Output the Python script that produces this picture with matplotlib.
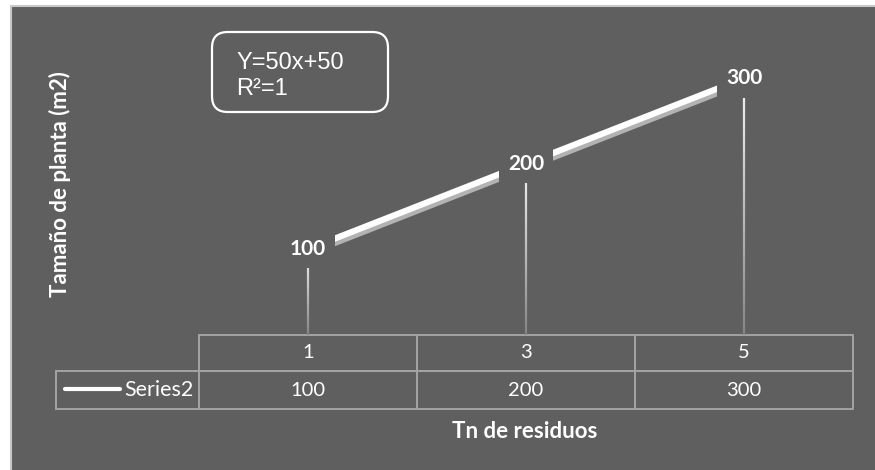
import numpy as np
import matplotlib.pyplot as plt
import matplotlib.patheffects as pe
from matplotlib.patches import Rectangle, FancyBboxPatch
from matplotlib.collections import LineCollection
from matplotlib.colors import LinearSegmentedColormap
from matplotlib.lines import Line2D
from matplotlib.table import Table

# Data
categories = ['1', '3', '5']
series_name = 'Series2'
values = [100, 200, 300]
equation = 'Y=50x+50\nR²=1'
x_title = 'Tn de residuos'
y_title = 'Tamaño de planta (m2)'

BG = '#5f5f5f'
GRID = '#a3a3a3'
W, H = 875, 470

plt.rcParams['font.family'] = ['Lato', 'DejaVu Sans']

fig = plt.figure(figsize=(W / 100, H / 100), dpi=100, facecolor='white')

# chart area background with a thin light border
fig.patches.append(Rectangle((11 / W, -0.01), 1, (H - 5.5) / H + 0.01, transform=fig.transFigure,
                             facecolor=BG, edgecolor='#c8c8c8', lw=1.5, zorder=-5))

ax_px = 299.0
ax = fig.add_axes([199 / W, (H - 334.5) / H, 654 / W, ax_px / H])
ax.set_facecolor('none')
for s in ax.spines.values():
    s.set_visible(False)
ax.set_xticks([])
ax.set_yticks([])
ax.set_xlim(-0.5, len(values) - 0.5)
ax.set_ylim(0, 350)

pos = np.arange(len(values))

# drop lines with a fading gradient
cmap = LinearSegmentedColormap.from_list('drop', ['#858585', '#f4f4f4'])
for xi, v in zip(pos, values):
    ys = np.linspace(0, v, 80)
    segs = [[(xi, ys[k]), (xi, ys[k + 1])] for k in range(len(ys) - 1)]
    lc = LineCollection(segs, colors=cmap(np.linspace(0, 1, len(segs))), linewidths=1.6, zorder=2)
    ax.add_collection(lc)

# main series line with a soft shadow underneath
ax.plot(pos, values, color='white', lw=4.4, solid_capstyle='butt', zorder=3,
        path_effects=[pe.SimpleLineShadow(offset=(0, -3.2), shadow_color='#b2b2b2', alpha=1),
                      pe.Normal()])

# data labels, boxed in background colour so they cut the lines
for xi, v in zip(pos, values):
    ax.text(xi, v, str(v), ha='center', va='center', color='white', fontsize=15,
            fontweight='bold', zorder=5,
            bbox=dict(boxstyle='square,pad=0.45', facecolor=BG, edgecolor='none'))

# data table beneath the plot: header row of categories, one row of values
row_w = 143 / 654
col_w = 1 / len(categories)
tbl_h = (409 - 334.5) / ax_px
tbl = Table(ax, bbox=[-row_w, -tbl_h, 1 + row_w, tbl_h])
cell_kw = dict(edgecolor=GRID, facecolor='none', loc='center')
for j, c in enumerate(categories):
    tbl.add_cell(0, j + 1, width=col_w, height=37, text=c, **cell_kw)
tbl.add_cell(1, 0, width=row_w, height=38, text='', **cell_kw)
for j, v in enumerate(values):
    tbl.add_cell(1, j + 1, width=col_w, height=38, text=str(v), **cell_kw)
tbl.auto_set_font_size(False)
tbl.set_fontsize(14.5)
for cell in tbl.get_celld().values():
    cell.set_linewidth(1.4)
    cell.get_text().set_color('white')
ax.add_table(tbl)

# legend key inside the row label cell
ax.legend(handles=[Line2D([], [], color='white', lw=3, solid_capstyle='round')],
          labels=[series_name], loc='center right',
          bbox_to_anchor=(-0.008, -tbl_h * (56 / 75)), bbox_transform=ax.transAxes,
          frameon=False, handlelength=2.55, handletextpad=0.22, borderpad=0,
          borderaxespad=0, fontsize=15.5, labelcolor='white')

# axis titles
fig.text(525 / W, 1 - 431 / H, x_title, ha='center', va='center', color='white',
         fontsize=16, fontweight='bold')
fig.text(60 / W, 1 - 184 / H, y_title, ha='center', va='center', color='white',
         fontsize=16, fontweight='bold', rotation=90)

# trendline equation box
fig.patches.append(FancyBboxPatch((212 / W, 1 - 112 / H), 176 / W, 80 / H,
                                  boxstyle='round,pad=0,rounding_size=0.018',
                                  mutation_aspect=W / H, transform=fig.transFigure,
                                  facecolor='none', edgecolor='white', lw=1.6, zorder=4))
fig.text(236 / W, 1 - 76 / H, equation, ha='left', va='center', color='white',
         fontsize=17, family=['Liberation Sans', 'DejaVu Sans'], linespacing=1.25)

fig.savefig('out.png', dpi=100, facecolor='white')
